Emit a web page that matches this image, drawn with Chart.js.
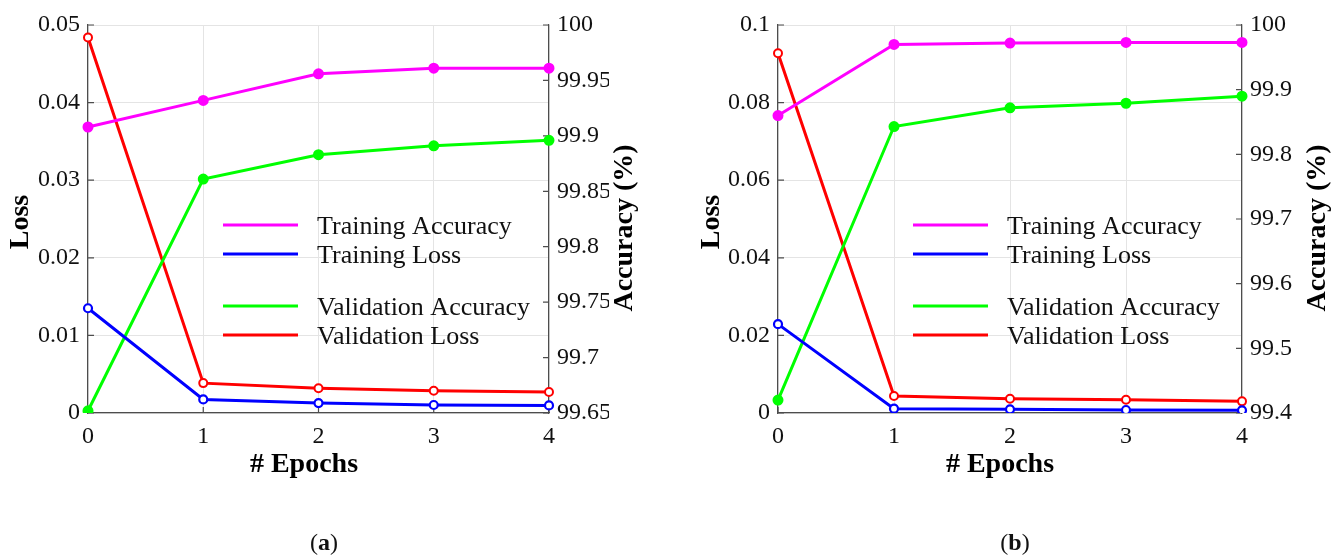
<!DOCTYPE html>
<html><head><meta charset="utf-8">
<script src="https://cdn.jsdelivr.net/npm/chart.js@4"></script>
<style>
html,body{margin:0;padding:0;background:#fff;}
#wrap{position:relative;width:1340px;height:558px;overflow:hidden;background:#fff;}
.cv{position:absolute;top:0;width:670px;height:558px;}
.cap{position:absolute;top:529px;font:24px/26px 'Liberation Serif',serif;color:#111;transform:translateX(-50%);white-space:nowrap;}
</style></head><body>
<div id="wrap">
<div class="cv" style="left:0"><canvas id="ca" width="670" height="558"></canvas></div>
<div class="cv" style="left:670px"><canvas id="cb" width="670" height="558"></canvas></div>
<div class="cap" style="left:324px">(<b>a</b>)</div>
<div class="cap" style="left:1015px">(<b>b</b>)</div>
</div>
<script>
// ---------- shared ----------
const epochs = ['0', '1', '2', '3', '4'];
const seriesNames = ['Training Accuracy', 'Training Loss', 'Validation Accuracy', 'Validation Loss'];
const xTitle = '# Epochs';
const lossTitle = 'Loss';
const accTitle = 'Accuracy (%)';

// ---------- chart (a) ----------
const trainAccA  = [99.908, 99.932, 99.956, 99.961, 99.961];
const valAccA    = [99.652, 99.861, 99.883, 99.891, 99.896];
const trainLossA = [0.0135, 0.00175, 0.00128, 0.00103, 0.00098];
const valLossA   = [0.0484, 0.00385, 0.0032, 0.00287, 0.0027];
const lossTicksA = [0, 0.01, 0.02, 0.03, 0.04, 0.05];
const lossTickLabelsA = ['0', '0.01', '0.02', '0.03', '0.04', '0.05'];
const accTicksA = [99.65, 99.7, 99.75, 99.8, 99.85, 99.9, 99.95, 100];
const accTickLabelsA = ['99.65', '99.7', '99.75', '99.8', '99.85', '99.9', '99.95', '100'];

// ---------- chart (b) ----------
const trainAccB  = [99.860, 99.970, 99.972, 99.973, 99.973];
const valAccB    = [99.420, 99.843, 99.872, 99.879, 99.890];
const trainLossB = [0.0229, 0.00111, 0.00094, 0.00077, 0.00068];
const valLossB   = [0.0927, 0.00437, 0.00368, 0.00342, 0.0030];
const lossTicksB = [0, 0.02, 0.04, 0.06, 0.08, 0.1];
const lossTickLabelsB = ['0', '0.02', '0.04', '0.06', '0.08', '0.1'];
const accTicksB = [99.4, 99.5, 99.6, 99.7, 99.8, 99.9, 100];
const accTickLabelsB = ['99.4', '99.5', '99.6', '99.7', '99.8', '99.9', '100'];

const FONT = "'Liberation Serif', 'Times New Roman', serif";
const COLORS = { ta: '#ff00ff', tl: '#0000ff', va: '#00ff00', vl: '#ff0000' };
const AXIS = '#4d4d4d';

function decoPlugin(p) {
  return {
    id: 'deco',
    beforeDatasetsDraw(chart) {
      const ctx = chart.ctx, a = chart.chartArea;
      const yl = chart.scales.yl, yr = chart.scales.yr, x = chart.scales.x;
      ctx.save();
      ctx.strokeStyle = AXIS; ctx.lineWidth = 1.2;
      ctx.beginPath();
      yl.ticks.forEach(t => { const y = yl.getPixelForValue(t.value); ctx.moveTo(a.left, y); ctx.lineTo(a.left + 6, y); });
      yr.ticks.forEach(t => { const y = yr.getPixelForValue(t.value); ctx.moveTo(a.right, y); ctx.lineTo(a.right - 6, y); });
      x.ticks.forEach((t, i) => { const xx = x.getPixelForTick(i); ctx.moveTo(xx, a.bottom); ctx.lineTo(xx, a.bottom - 6); });
      ctx.stroke();
      ctx.restore();
    },
    afterDraw(chart) {
      const ctx = chart.ctx, a = chart.chartArea;
      ctx.save();
      ctx.fillStyle = '#000';
      ctx.font = 'bold 28px ' + FONT;
      ctx.textAlign = 'center'; ctx.textBaseline = 'middle';
      // axis titles
      ctx.fillText(xTitle, p.xTitleX, p.xTitleY);
      ctx.save(); ctx.translate(p.lossX, p.lossY); ctx.rotate(-Math.PI / 2); ctx.fillText(lossTitle, 0, 0); ctx.restore();
      ctx.save(); ctx.translate(p.accX, p.accY); ctx.rotate(-Math.PI / 2); ctx.fillText(accTitle, 0, 0); ctx.restore();
      // legend
      const cols = [COLORS.ta, COLORS.tl, COLORS.va, COLORS.vl];
      const rows = [200, 229, 281, 310];
      ctx.font = '26px ' + FONT;
      ctx.textAlign = 'left';
      seriesNames.forEach((name, i) => {
        const y = a.top + rows[i];
        ctx.strokeStyle = cols[i]; ctx.lineWidth = 3;
        ctx.beginPath(); ctx.moveTo(a.left + 135, y); ctx.lineTo(a.left + 210, y); ctx.stroke();
        ctx.fillStyle = '#111';
        ctx.fillText(name, a.left + 229, y + 2);
      });
      ctx.restore();
    }
  };
}

function makeChart(id, d, p) {
  const common = { borderWidth: 3, pointRadius: 4, pointHoverRadius: 4, tension: 0, fill: false };
  return new Chart(document.getElementById(id), {
    type: 'line',
    data: {
      labels: epochs,
      datasets: [
        Object.assign({ label: seriesNames[0], data: d.ta, yAxisID: 'yr', borderColor: COLORS.ta, pointBackgroundColor: COLORS.ta, pointBorderColor: COLORS.ta }, common),
        Object.assign({ label: seriesNames[1], data: d.tl, yAxisID: 'yl', borderColor: COLORS.tl, pointBackgroundColor: '#ffffff', pointBorderColor: COLORS.tl, pointBorderWidth: 2.2 }, common),
        Object.assign({ label: seriesNames[2], data: d.va, yAxisID: 'yr', borderColor: COLORS.va, pointBackgroundColor: COLORS.va, pointBorderColor: COLORS.va }, common),
        Object.assign({ label: seriesNames[3], data: d.vl, yAxisID: 'yl', borderColor: COLORS.vl, pointBackgroundColor: '#ffffff', pointBorderColor: COLORS.vl, pointBorderWidth: 2, pointRadius: 3.5 }, common)
      ]
    },
    options: {
      responsive: false,
      animation: false,
      devicePixelRatio: 1,
      layout: { padding: { left: 0, top: 25, right: p.padRight, bottom: 105 } },
      plugins: { legend: { display: false }, tooltip: { enabled: false } },
      scales: {
        x: {
          type: 'category', offset: false,
          grid: { color: '#e4e4e4', lineWidth: 1, drawTicks: false },
          border: { display: true, color: AXIS, width: 1.2 },
          ticks: { font: { family: FONT, size: 24 }, color: '#111', padding: 9, maxRotation: 0 },
          afterFit(s) { s.height = 40; }
        },
        yl: {
          position: 'left', min: d.lossTicks[0], max: d.lossTicks[d.lossTicks.length - 1],
          afterBuildTicks(s) { s.ticks = d.lossTicks.map(v => ({ value: v })); },
          grid: { color: '#e4e4e4', lineWidth: 1, drawTicks: false },
          border: { display: true, color: AXIS, width: 1.2 },
          ticks: { font: { family: FONT, size: 24 }, color: '#111', padding: 8,
                   callback: (v, i) => d.lossLabels[i] },
          afterFit(s) { s.width = p.leftW; }
        },
        yr: {
          position: 'right', min: d.accTicks[0], max: d.accTicks[d.accTicks.length - 1],
          afterBuildTicks(s) { s.ticks = d.accTicks.map(v => ({ value: v })); },
          grid: { display: false, drawTicks: false },
          border: { display: true, color: AXIS, width: 1.2 },
          ticks: { font: { family: FONT, size: 24 }, color: '#111', padding: 8,
                   callback: (v, i) => d.accLabels[i] },
          afterFit(s) { s.width = 60; }
        }
      }
    },
    plugins: [decoPlugin(p)]
  });
}

makeChart('ca',
  { ta: trainAccA, tl: trainLossA, va: valAccA, vl: valLossA,
    lossTicks: lossTicksA, lossLabels: lossTickLabelsA, accTicks: accTicksA, accLabels: accTickLabelsA },
  { leftW: 88, padRight: 61, xTitleX: 304, xTitleY: 465, lossX: 21, lossY: 222, accX: 625, accY: 228 });

makeChart('cb',
  { ta: trainAccB, tl: trainLossB, va: valAccB, vl: valLossB,
    lossTicks: lossTicksB, lossLabels: lossTickLabelsB, accTicks: accTicksB, accLabels: accTickLabelsB },
  { leftW: 108, padRight: 38, xTitleX: 330, xTitleY: 465, lossX: 42, lossY: 222, accX: 648, accY: 228 });
</script>
</body></html>
